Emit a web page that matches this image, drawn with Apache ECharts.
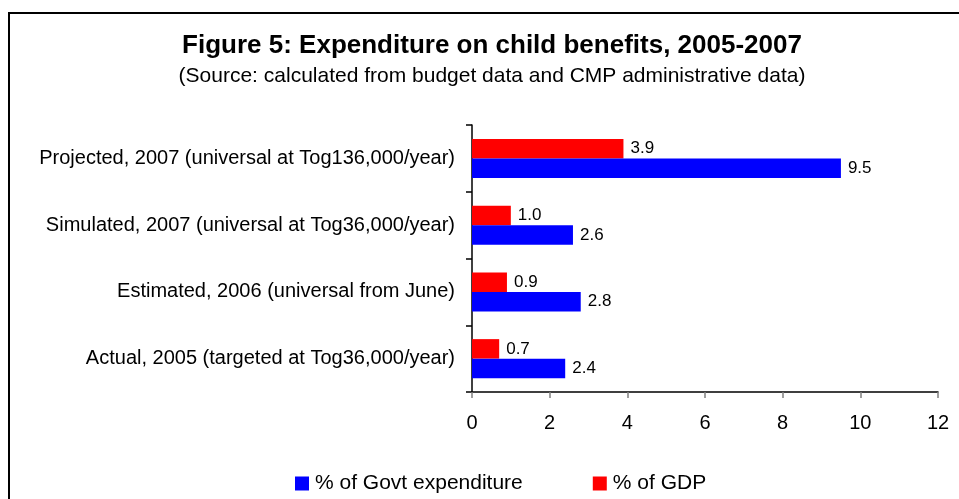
<!DOCTYPE html>
<html>
<head>
<meta charset="utf-8">
<script src="https://cdn.jsdelivr.net/npm/echarts@6/dist/echarts.min.js"></script>
<style>
html,body{margin:0;padding:0;background:#fff;}
#chart{width:959px;height:499px;}
</style>
</head>
<body>
<div id="chart"></div>
<script>
var titleText = 'Figure 5: Expenditure on child benefits, 2005-2007';
var subtitleText = '(Source: calculated from budget data and CMP administrative data)';
var categories = [
  'Actual, 2005 (targeted at Tog36,000/year)',
  'Estimated, 2006 (universal from June)',
  'Simulated, 2007 (universal at Tog36,000/year)',
  'Projected, 2007 (universal at Tog136,000/year)'
];
var seriesNames = ['% of Govt expenditure', '% of GDP'];
var govtExpenditure = [2.4, 2.8, 2.6, 9.5];
var gdpShare = [0.7, 0.9, 1.0, 3.9];
var xMin = 0, xMax = 12, xStep = 2;

var font = '"Liberation Sans", Arial, sans-serif';
var chart = echarts.init(document.getElementById('chart'), null, {renderer: 'canvas'});
var labelCfg = {
  show: true, position: 'right', distance: 7,
  color: '#000', fontSize: 17, fontFamily: font,
  formatter: function (p) { return p.value.toFixed(1); }
};
chart.setOption({
  animation: false,
  backgroundColor: '#fff',
  graphic: [
    {type: 'rect', shape: {x: 9, y: 13, width: 1000, height: 1000},
     style: {fill: 'none', stroke: '#000', lineWidth: 2}, silent: true},
    {type: 'text', x: 492, y: 46,
     style: {text: titleText, font: 'bold 26px ' + font, fill: '#000',
             textAlign: 'center', textVerticalAlign: 'middle'}},
    {type: 'text', x: 492, y: 76,
     style: {text: subtitleText, font: '21px ' + font, fill: '#000',
             textAlign: 'center', textVerticalAlign: 'middle'}}
  ],
  legend: {
    data: seriesNames,
    left: 295, top: 473, padding: 0,
    itemWidth: 14, itemHeight: 14, itemGap: 70,
    icon: 'rect',
    textStyle: {color: '#000', fontSize: 21, fontFamily: font, padding: [0, 0, 0, 1]}
  },
  grid: {left: 472, right: 21, top: 125, bottom: 107, containLabel: false},
  xAxis: {
    type: 'value', min: xMin, max: xMax, interval: xStep,
    axisLine: {show: true, lineStyle: {color: '#000', width: 1.5}},
    axisTick: {show: true, length: 6, lineStyle: {color: '#808080', width: 1.5}},
    axisLabel: {color: '#000', fontSize: 20, fontFamily: font, margin: 21},
    splitLine: {show: false}
  },
  yAxis: {
    type: 'category', data: categories,
    axisLine: {show: true, lineStyle: {color: '#000', width: 1.5}},
    axisTick: {show: true, length: 6, alignWithLabel: false, lineStyle: {color: '#000', width: 1.5}},
    axisLabel: {color: '#000', fontSize: 20, fontFamily: font, margin: 17}
  },
  series: [
    {name: seriesNames[1], type: 'bar', data: gdpShare, barWidth: 19.5, barGap: '0%',
     itemStyle: {color: '#ff0000'}, label: labelCfg},
    {name: seriesNames[0], type: 'bar', data: govtExpenditure, barWidth: 19.5, barGap: '0%',
     itemStyle: {color: '#0000ff'}, label: labelCfg}
  ]
});
</script>
</body>
</html>
